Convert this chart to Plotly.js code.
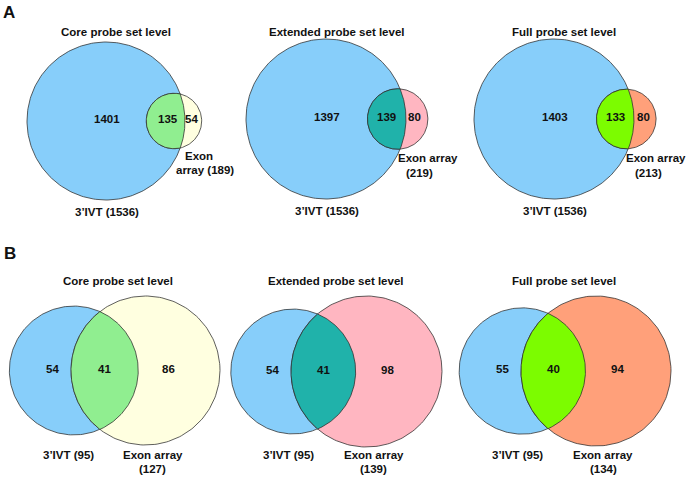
<!DOCTYPE html>
<html><head><meta charset="utf-8">
<script src="https://cdn.plot.ly/plotly-3.0.1.min.js"></script>
<style>html,body{margin:0;padding:0;background:#fff}</style>
</head><body><div id="chart" style="width:689px;height:478px"></div>
<script>
// ---- data ----
const panelTitles = ["Core probe set level","Extended probe set level","Full probe set level",
                     "Core probe set level","Extended probe set level","Full probe set level"];
const ivtTotal   = [1536,1536,1536,95,95,95];
const exonTotal  = [189,219,213,127,139,134];
const overlap    = [135,139,133,41,41,40];
const ivtOnly    = [1401,1397,1403,54,54,55];
const exonOnly   = [54,80,80,86,98,94];
const ivtLabels  = ["3\u2019IVT (1536)","3\u2019IVT (1536)","3\u2019IVT (1536)","3\u2019IVT (95)","3\u2019IVT (95)","3\u2019IVT (95)"];
const exonLine1  = ["Exon","Exon array","Exon array","Exon array","Exon array","Exon array"];
const exonLine2  = ["array (189)","(219)","(213)","(127)","(139)","(134)"];
const panelLetters = ["A","B"];

// ---- styles / layout constants ----
const ivtColor = "#87CEFA";
const exonColors  = ["#FFFFE0","#FFB6C1","#FFA07A","#FFFFE0","#FFB6C1","#FFA07A"];
const interColors = ["#90EE90","#20B2AA","#7CFC00","#90EE90","#20B2AA","#7CFC00"];
const anchorX = [106,326,554,145.5,366.5,596];
const anchorY = [121,119,119,370.5,371.5,371];
const anchorR = [79,80,80,74.5,75.5,75];
const anchorIsIvt = [true,true,true,false,false,false];
const titleY = [32,32,32,281,281,281];
const titleDx = [2,0,-1,3,0,-1];
const lineCol = "rgba(45,45,45,0.85)";
const FONT = "Liberation Sans, Arial, sans-serif";

function overlapArea(d,r1,r2){
  if (d >= r1+r2) return 0;
  if (d <= Math.abs(r1-r2)) return Math.PI*Math.min(r1,r2)**2;
  const a = r1*r1*Math.acos((d*d+r1*r1-r2*r2)/(2*d*r1));
  const b = r2*r2*Math.acos((d*d+r2*r2-r1*r1)/(2*d*r2));
  const c = 0.5*Math.sqrt((-d+r1+r2)*(d+r1-r2)*(d-r1+r2)*(d+r1+r2));
  return a+b-c;
}
function solveD(r1,r2,target){
  let lo=Math.abs(r1-r2), hi=r1+r2;
  for(let i=0;i<100;i++){
    const m=(lo+hi)/2;
    if (overlapArea(m,r1,r2) > target) lo=m; else hi=m;
  }
  return (lo+hi)/2;
}
function circlePts(cx,cy,r,a0,a1,n){
  const xs=[],ys=[];
  for(let i=0;i<=n;i++){const t=a0+(a1-a0)*i/n; xs.push(cx+r*Math.cos(t)); ys.push(cy+r*Math.sin(t));}
  return [xs,ys];
}

const traces=[], annotations=[];
function ann(x,y,text,size,extra){
  annotations.push(Object.assign({x:x,y:y,xref:"x",yref:"y",text:text,showarrow:false,
    font:{family:FONT,size:size||11.5,color:"#111",weight:"bold"},xanchor:"center",yanchor:"middle"},extra||{}));
}

for(let i=0;i<6;i++){
  let k,r1,r2,c1x,c2x;
  const cy=anchorY[i];
  if(anchorIsIvt[i]){ k=anchorR[i]/Math.sqrt(ivtTotal[i]); }
  else { k=anchorR[i]/Math.sqrt(exonTotal[i]); }
  r1=k*Math.sqrt(ivtTotal[i]); r2=k*Math.sqrt(exonTotal[i]);
  const d=solveD(r1,r2,Math.PI*k*k*overlap[i]);
  if(anchorIsIvt[i]){ c1x=anchorX[i]; c2x=c1x+d; } else { c2x=anchorX[i]; c1x=c2x-d; }

  let p=circlePts(c1x,cy,r1,0,2*Math.PI,240);
  traces.push({x:p[0],y:p[1],mode:"lines",fill:"toself",fillcolor:ivtColor,line:{color:lineCol,width:0.9},hoverinfo:"skip"});
  p=circlePts(c2x,cy,r2,0,2*Math.PI,200);
  traces.push({x:p[0],y:p[1],mode:"lines",fill:"toself",fillcolor:exonColors[i],line:{color:lineCol,width:0.9},hoverinfo:"skip"});
  // lens (intersection)
  const x0=(d*d+r1*r1-r2*r2)/(2*d);
  const h=Math.sqrt(Math.max(r1*r1-x0*x0,0));
  const t1=Math.atan2(h,x0), t2=Math.atan2(h,d-x0);
  const a=circlePts(c1x,cy,r1,-t1,t1,120);
  const b=circlePts(c2x,cy,r2,Math.PI-t2,Math.PI+t2,120);
  traces.push({x:a[0].concat(b[0]),y:a[1].concat(b[1]),mode:"lines",fill:"toself",fillcolor:interColors[i],
    line:{color:lineCol,width:0.9},hoverinfo:"skip"});

  // labels
  const ny=cy-2;
  const lensMid=((c2x-r2)+(c1x+r1))/2;
  const rightMid=((c1x+r1)+(c2x+r2))/2;
  const leftMid=((c1x-r1)+(c2x-r2))/2;
  const ext0=Math.min(c1x-r1,c2x-r2), ext1=Math.max(c1x+r1,c2x+r2);
  ann((ext0+ext1)/2+titleDx[i], titleY[i], panelTitles[i]);
  if(anchorIsIvt[i]){
    ann(c1x+1, ny, String(ivtOnly[i]));
    ann(lensMid+(i===0?2:0), ny, String(overlap[i]));
    ann(rightMid-2, ny, String(exonOnly[i]));
    ann(c1x+1, cy+r1+12, ivtLabels[i]);
    if(i===0){
      ann(c2x+25, cy+35, exonLine1[i]);
      ann(c2x+31, cy+49, exonLine2[i]);
    } else {
      ann(c2x+30, cy+39, exonLine1[i]);
      ann(c2x+22, cy+54, exonLine2[i]);
    }
  } else {
    ann(leftMid+12, ny, String(ivtOnly[i]));
    ann(lensMid, ny, String(overlap[i]));
    ann(rightMid-11, ny, String(exonOnly[i]));
    ann(c1x-5, 455, ivtLabels[i]);
    ann(c2x+7, 455, exonLine1[i]);
    ann(c2x+7, 469, exonLine2[i]);
  }
}
ann(9,12,panelLetters[0],17);
ann(10,253,panelLetters[1],17);

const layout={
  width:689,height:478,margin:{l:0,r:0,t:0,b:0},
  paper_bgcolor:"#fff",plot_bgcolor:"#fff",showlegend:false,
  xaxis:{range:[0,689],visible:false,fixedrange:true,domain:[0,1]},
  yaxis:{range:[478,0],visible:false,fixedrange:true,domain:[0,1]},
  annotations:annotations
};
Plotly.newPlot("chart",traces,layout,{staticPlot:true,displayModeBar:false});
</script></body></html>
